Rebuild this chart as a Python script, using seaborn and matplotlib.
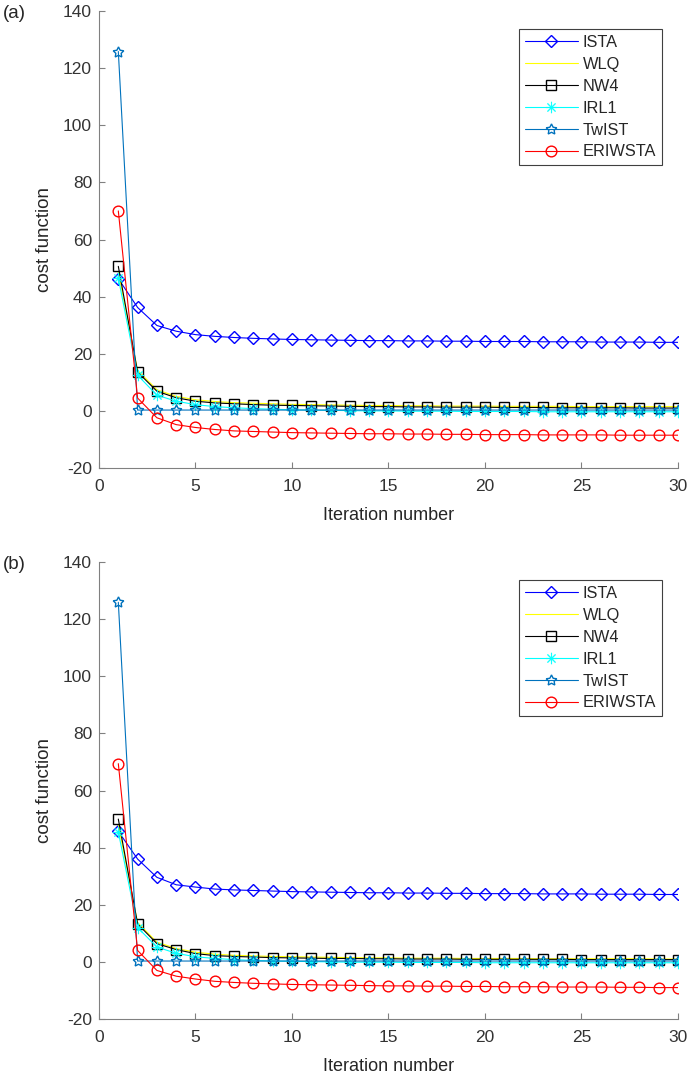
import matplotlib
matplotlib.use("Agg")
import matplotlib.pyplot as plt
import seaborn as sns

# iteration axis
iters = list(range(1, 31))

# panel (a)
ista_a = [46.3, 36.2, 29.9, 27.9, 26.7, 26.1, 25.7, 25.4, 25.2, 25.0,
          24.9, 24.8, 24.7, 24.6, 24.6, 24.5, 24.5, 24.4, 24.4, 24.3,
          24.3, 24.3, 24.2, 24.2, 24.2, 24.1, 24.1, 24.1, 24.0, 24.0]
wlq_a = [48.5, 14.2, 7.4, 5.1, 3.9, 3.3, 2.9, 2.7, 2.5, 2.3,
         2.2, 2.1, 2.0, 1.9, 1.9, 1.8, 1.8, 1.7, 1.7, 1.7,
         1.6, 1.6, 1.6, 1.6, 1.5, 1.5, 1.5, 1.5, 1.5, 1.5]
nw4_a = [50.6, 13.6, 6.9, 4.6, 3.4, 2.8, 2.5, 2.2, 2.0, 1.9,
         1.8, 1.7, 1.6, 1.5, 1.5, 1.4, 1.4, 1.3, 1.3, 1.3,
         1.2, 1.2, 1.2, 1.1, 1.1, 1.1, 1.1, 1.0, 1.0, 1.0]
irl1_a = [46.5, 12.5, 5.5, 3.4, 2.2, 1.5, 1.1, 0.8, 0.6, 0.4,
          0.3, 0.2, 0.1, 0.0, 0.0, -0.1, -0.1, -0.1, -0.2, -0.2,
          -0.2, -0.2, -0.3, -0.3, -0.3, -0.3, -0.3, -0.3, -0.3, -0.3]
twist_a = [125.8, 0.3, 0.3, 0.3, 0.3, 0.3, 0.3, 0.3, 0.3, 0.3,
           0.3, 0.3, 0.3, 0.3, 0.3, 0.3, 0.3, 0.3, 0.3, 0.3,
           0.3, 0.3, 0.3, 0.3, 0.3, 0.3, 0.3, 0.3, 0.3, 0.3]
eriwsta_a = [70.0, 4.5, -2.4, -4.8, -5.8, -6.5, -7.0, -7.2, -7.4, -7.6,
             -7.7, -7.8, -7.9, -8.0, -8.0, -8.1, -8.1, -8.2, -8.2, -8.3,
             -8.3, -8.3, -8.4, -8.4, -8.4, -8.4, -8.5, -8.5, -8.5, -8.5]

# panel (b)
ista_b = [45.7, 36.0, 29.6, 27.0, 26.2, 25.5, 25.2, 25.0, 24.8, 24.6,
          24.5, 24.4, 24.3, 24.2, 24.2, 24.1, 24.1, 24.0, 24.0, 23.9,
          23.9, 23.9, 23.8, 23.8, 23.8, 23.7, 23.7, 23.7, 23.6, 23.6]
wlq_b = [48.0, 13.8, 6.9, 4.7, 3.4, 2.7, 2.3, 2.1, 1.9, 1.8,
         1.7, 1.6, 1.5, 1.4, 1.4, 1.3, 1.3, 1.3, 1.2, 1.2,
         1.2, 1.2, 1.1, 1.1, 1.1, 1.1, 1.1, 1.1, 1.0, 1.0]
nw4_b = [50.0, 13.3, 6.4, 4.3, 2.9, 2.2, 1.9, 1.7, 1.5, 1.4,
         1.3, 1.2, 1.2, 1.1, 1.1, 1.0, 1.0, 1.0, 0.9, 0.9,
         0.9, 0.9, 0.9, 0.9, 0.8, 0.8, 0.8, 0.8, 0.8, 0.8]
irl1_b = [45.5, 12.0, 5.2, 3.0, 1.8, 1.2, 0.8, 0.5, 0.3, 0.2,
          0.1, 0.0, -0.1, -0.1, -0.1, -0.2, -0.2, -0.2, -0.2, -0.3,
          -0.3, -0.3, -0.3, -0.3, -0.3, -0.3, -0.3, -0.3, -0.3, -0.3]
twist_b = [125.9, 0.3, 0.3, 0.3, 0.3, 0.3, 0.3, 0.3, 0.3, 0.3,
           0.3, 0.3, 0.3, 0.3, 0.3, 0.3, 0.3, 0.3, 0.3, 0.3,
           0.3, 0.3, 0.3, 0.3, 0.3, 0.3, 0.3, 0.3, 0.3, 0.3]
eriwsta_b = [69.4, 4.0, -3.0, -5.0, -6.0, -6.8, -7.2, -7.5, -7.7, -7.9,
             -8.0, -8.1, -8.2, -8.3, -8.4, -8.4, -8.5, -8.5, -8.6, -8.6,
             -8.7, -8.7, -8.7, -8.8, -8.8, -8.8, -8.9, -8.9, -9.0, -9.0]

labels = ['ISTA', 'WLQ', 'NW4', 'IRL1', 'TwIST', 'ERIWSTA']
colors = ['#0000ff', '#ffff00', '#000000', '#00ffff', '#0072bd', '#ff0000']

sns.set_style("white")
plt.rcParams['font.family'] = ['Liberation Sans', 'DejaVu Sans']
plt.rcParams['axes.unicode_minus'] = False


def marker_style(lab, col):
    # marker look of each method, MATLAB-like open symbols
    if lab == 'ISTA':
        return dict(marker='D', markersize=6.5, markerfacecolor='none',
                    markeredgecolor=col, markeredgewidth=1.0)
    if lab == 'NW4':
        return dict(marker='s', markersize=7, markerfacecolor='none',
                    markeredgecolor=col, markeredgewidth=1.0)
    if lab == 'IRL1':
        return dict(marker='$\u2733$', markersize=8, markeredgewidth=0.3,
                    markerfacecolor=col, markeredgecolor=col)
    if lab == 'TwIST':
        return dict(marker=(5, 1, 0), markersize=8, markerfacecolor='none',
                    markeredgecolor=col, markeredgewidth=1.0)
    if lab == 'ERIWSTA':
        return dict(marker='o', markersize=7.7, markerfacecolor='none',
                    markeredgecolor=col, markeredgewidth=1.0)
    return {}


fig = plt.figure(figsize=(6.91, 10.74), dpi=100)
ax_a = fig.add_axes([0.1433, 0.5642, 0.8377, 0.4256])
ax_b = fig.add_axes([0.1433, 0.0512, 0.8377, 0.4255])

panels = [
    (ax_a, '(a)', [ista_a, wlq_a, nw4_a, irl1_a, twist_a, eriwsta_a]),
    (ax_b, '(b)', [ista_b, wlq_b, nw4_b, irl1_b, twist_b, eriwsta_b]),
]

for ax, tag, series in panels:
    for vals, lab, col in zip(series, labels, colors):
        sns.lineplot(x=iters, y=vals, ax=ax, color=col, linewidth=0.8,
                     label=lab, **marker_style(lab, col))

    ax.set_xlim(0, 30)
    ax.set_ylim(-20, 140)
    ax.set_xticks(range(0, 31, 5))
    ax.set_yticks(range(-20, 141, 20))
    ax.set_xlabel('Iteration number', fontsize=13, color='#262626', labelpad=9)
    ax.set_ylabel('cost function', fontsize=13.5, color='#262626', labelpad=7)
    ax.tick_params(bottom=True, left=True, direction='in', length=4,
                   width=0.8, colors='#808080', labelcolor='#333333',
                   labelsize=12.5)
    ax.tick_params(axis='x', pad=8)
    ax.tick_params(axis='y', pad=5)
    for side in ['top', 'right']:
        ax.spines[side].set_visible(False)
    for side in ['left', 'bottom']:
        ax.spines[side].set_color('#808080')
        ax.spines[side].set_linewidth(0.8)
    leg = ax.legend(loc='upper right', bbox_to_anchor=(0.972, 0.96),
                    borderaxespad=0, fontsize=11.8, handlelength=3.2,
                    labelspacing=0.42, fancybox=False, framealpha=1,
                    borderpad=0.35, handletextpad=0.3)
    leg.get_frame().set_edgecolor('#404040')
    leg.get_frame().set_linewidth(0.8)
    pos = ax.get_position()
    fig.text(0.004, pos.y1 - 0.002, tag, fontsize=13.5, ha='left', va='center')

fig.savefig('out.png', dpi=100)
